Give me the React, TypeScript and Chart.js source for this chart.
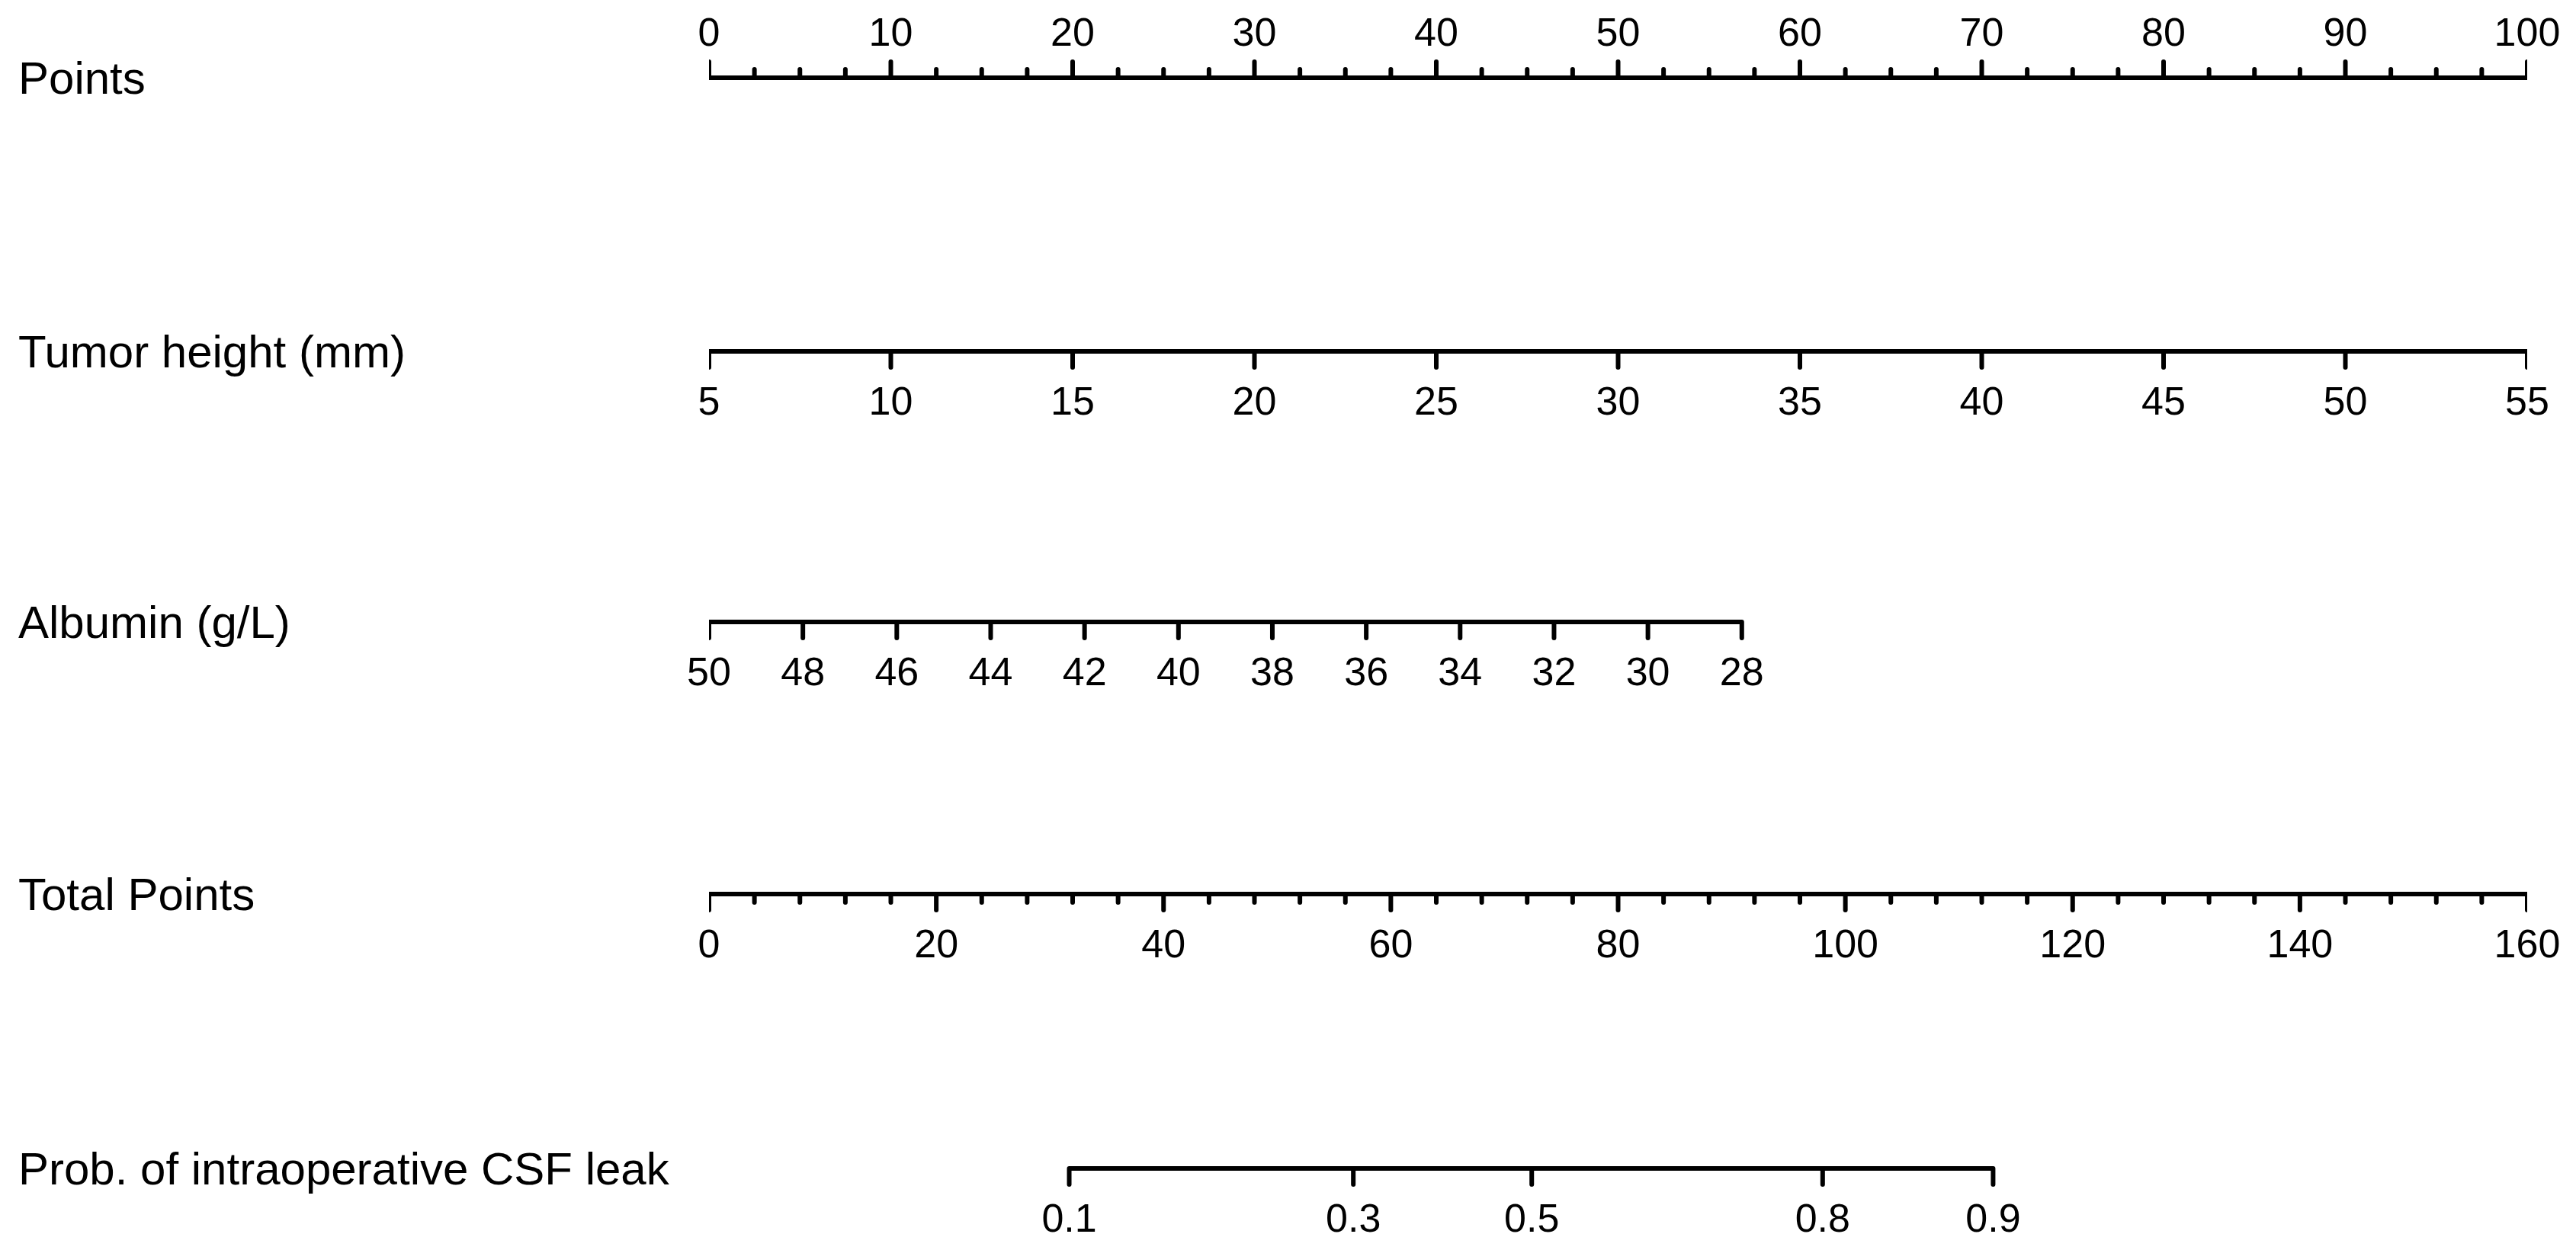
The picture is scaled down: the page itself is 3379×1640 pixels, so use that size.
import { useEffect, useRef } from "react";
import { Chart, registerables } from "chart.js";

Chart.register(...registerables);

const W = 3379;
const H = 1640;

// ---------- data ----------
const variableLabels = [
  "Points",
  "Tumor height (mm)",
  "Albumin (g/L)",
  "Total Points",
  "Prob. of intraoperative CSF leak",
];

const pointsTicks = [0, 10, 20, 30, 40, 50, 60, 70, 80, 90, 100];
const pointsMinorDivisions = 4;

const tumorTicks = [5, 10, 15, 20, 25, 30, 35, 40, 45, 50, 55];

const albuminTicks = [50, 48, 46, 44, 42, 40, 38, 36, 34, 32, 30, 28];
const albuminPointsPerUnit = 2.582; // points gained per g/L decrease

const totalTicks = [0, 20, 40, 60, 80, 100, 120, 140, 160];
const totalMinorDivisions = 5;

const probTicks = [0.1, 0.3, 0.5, 0.8, 0.9];
const probTotalPoints = [31.7, 56.7, 72.4, 98.0, 113.0];

// ---------- layout / style ----------
const AXIS_LEFT = 930;
const AXIS_RIGHT = 3315;
const rowY = [102, 461, 816, 1173, 1533];
const MAJOR_LEN = 21;
const MINOR_LEN = 11;
const LINE_W = 6;
const FONT = '"Liberation Sans", Arial, Helvetica, sans-serif';

type Tick = { v: number; len: number; label?: string };

function withMinor(majors: number[], divisions: number): Tick[] {
  const out: Tick[] = [];
  for (let i = 0; i < majors.length; i++) {
    out.push({ v: majors[i], len: MAJOR_LEN, label: String(majors[i]) });
    if (i < majors.length - 1) {
      const step = (majors[i + 1] - majors[i]) / divisions;
      for (let k = 1; k < divisions; k++) {
        out.push({ v: majors[i] + step * k, len: MINOR_LEN });
      }
    }
  }
  return out;
}

type Row = { name: string; axis: string; y: number; dir: number; ticks: Tick[] };

const rows: Row[] = [
  { name: variableLabels[0], axis: "x", y: rowY[0], dir: -1, ticks: withMinor(pointsTicks, pointsMinorDivisions) },
  { name: variableLabels[1], axis: "xTumor", y: rowY[1], dir: 1, ticks: tumorTicks.map((v) => ({ v, len: MAJOR_LEN, label: String(v) })) },
  { name: variableLabels[2], axis: "xAlb", y: rowY[2], dir: 1, ticks: albuminTicks.map((v) => ({ v, len: MAJOR_LEN, label: String(v) })) },
  { name: variableLabels[3], axis: "xTotal", y: rowY[3], dir: 1, ticks: withMinor(totalTicks, totalMinorDivisions) },
  {
    name: variableLabels[4],
    axis: "xTotal",
    y: rowY[4],
    dir: 1,
    ticks: probTicks.map((p, i) => ({ v: probTotalPoints[i], len: MAJOR_LEN, label: String(p) })),
  },
];

function axisPath(r: Row) {
  const pts: { x: number; y: number }[] = [];
  r.ticks.forEach((t) => {
    pts.push({ x: t.v, y: r.y });
    pts.push({ x: t.v, y: r.y + r.dir * t.len });
    pts.push({ x: t.v, y: r.y });
  });
  return pts;
}

const labelsPlugin = {
  id: "nomogramLabels",
  afterDatasetsDraw(chart: any) {
    const ctx = chart.ctx as CanvasRenderingContext2D;
    const yScale = chart.scales.y;
    ctx.save();
    ctx.fillStyle = "#000";
    ctx.textBaseline = "alphabetic";
    ctx.font = `60px ${FONT}`;
    ctx.textAlign = "left";
    rows.forEach((r) => {
      ctx.fillText(r.name, 24, yScale.getPixelForValue(r.y) + 21);
    });
    ctx.font = `52px ${FONT}`;
    ctx.textAlign = "center";
    rows.forEach((r) => {
      const sc = chart.scales[r.axis];
      const yPix = yScale.getPixelForValue(r.y);
      r.ticks.forEach((t) => {
        if (!t.label) return;
        const x = sc.getPixelForValue(t.v);
        const y = r.dir < 0 ? yPix - 42 : yPix + 83;
        ctx.fillText(t.label, x, y);
      });
    });
    ctx.restore();
  },
};

export default function App() {
  const ref = useRef<HTMLCanvasElement | null>(null);

  useEffect(() => {
    if (!ref.current) return;
    const chart = new Chart(ref.current, {
      type: "scatter",
      data: {
        datasets: rows.map((r) => ({
          data: axisPath(r),
          xAxisID: r.axis,
          yAxisID: "y",
          showLine: true,
          borderColor: "#000",
          borderWidth: LINE_W,
          borderJoinStyle: "round" as const,
          borderCapStyle: "round" as const,
          pointRadius: 0,
          pointHoverRadius: 0,
          fill: false,
          tension: 0,
        })),
      },
      options: {
        animation: false,
        responsive: false,
        maintainAspectRatio: false,
        devicePixelRatio: 1,
        events: [],
        layout: { padding: { left: AXIS_LEFT, right: W - AXIS_RIGHT, top: 0, bottom: 0 } },
        plugins: { legend: { display: false }, tooltip: { enabled: false } },
        scales: {
          x: { type: "linear", min: 0, max: 100, display: false },
          xTumor: { type: "linear", axis: "x", min: 5, max: 55, display: false },
          xAlb: {
            type: "linear",
            axis: "x",
            min: 50 - 100 / albuminPointsPerUnit,
            max: 50,
            reverse: true,
            display: false,
          },
          xTotal: { type: "linear", axis: "x", min: 0, max: 160, display: false },
          y: { type: "linear", min: 0, max: H, reverse: true, display: false },
        },
      } as any,
      plugins: [labelsPlugin],
    });
    return () => chart.destroy();
  }, []);

  return (
    <div style={{ position: "fixed", left: 0, top: 0, width: W, height: H, background: "#fff" }}>
      <canvas ref={ref} width={W} height={H} style={{ display: "block", width: W, height: H }} />
    </div>
  );
}
